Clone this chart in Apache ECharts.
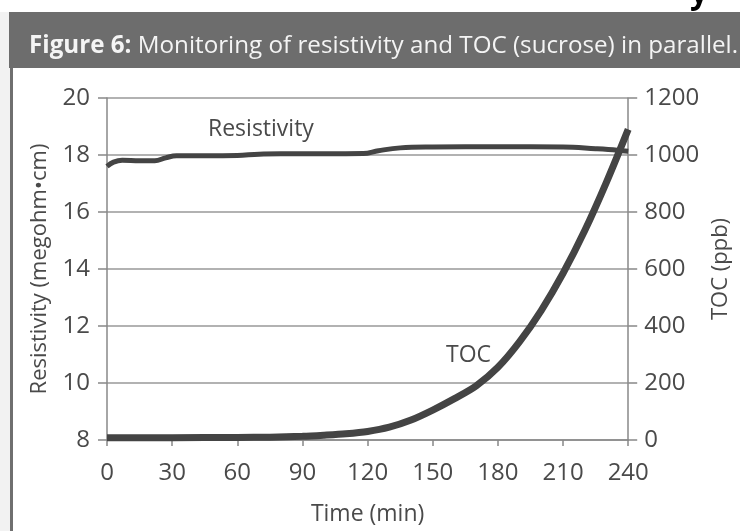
<!DOCTYPE html>
<html>
<head>
<meta charset="utf-8">
<script src="https://cdn.jsdelivr.net/npm/echarts@6/dist/echarts.min.js"></script>
<style>html,body{margin:0;padding:0;background:#fff;}#c{width:740px;height:531px;}</style>
</head>
<body>
<div id="c"></div>
<script>
// Data
var resTime = [0, 3, 7, 15, 22, 27, 32, 45, 60, 70, 80, 100, 118, 125, 135, 150, 180, 210, 225, 235, 240];
var resValues = [17.6, 17.75, 17.82, 17.8, 17.8, 17.9, 17.97, 17.97, 17.98, 18.03, 18.04, 18.04, 18.05, 18.15, 18.25, 18.28, 18.29, 18.28, 18.22, 18.17, 18.13];
var tocTime = [0, 30, 60, 75, 90, 100, 110, 120, 130, 140, 150, 160, 170, 180, 190, 200, 210, 220, 230, 240];
var tocValues = [8, 8, 9, 10, 13, 17, 22, 30, 45, 70, 105, 145, 190, 255, 345, 455, 585, 735, 905, 1090];
var xTicks = [0, 30, 60, 90, 120, 150, 180, 210, 240];
var leftTicks = [8, 10, 12, 14, 16, 18, 20];
var rightTicks = [0, 200, 400, 600, 800, 1000, 1200];
var titleBold = 'Figure 6:';
var titleRest = ' Monitoring of resistivity and TOC (sucrose) in parallel.';
var xName = 'Time (min)';
var leftName = 'Resistivity (megohm\u2022cm)';
var rightName = 'TOC (ppb)';

function pairs(xs, ys) { return xs.map(function (x, i) { return [x, ys[i]]; }); }

var FONT = '"Open Sans", sans-serif';
var TXT = '#4a4a4a';
var chart = echarts.init(document.getElementById('c'), null, {renderer: 'canvas'});
chart.setOption({
  animation: false,
  backgroundColor: '#fff',
  grid: {left: 107, right: 96, top: 98, bottom: 86},
  xAxis: {
    type: 'value', min: 0, max: 240, interval: 30,
    name: xName, nameLocation: 'middle', nameGap: 63,
    nameTextStyle: {fontFamily: FONT, fontSize: 23, color: TXT},
    axisLine: {lineStyle: {color: '#888', width: 1.5}},
    axisTick: {length: 6, lineStyle: {color: '#888', width: 1.5}},
    axisLabel: {fontFamily: FONT, fontSize: 24, color: TXT, margin: 21,
      formatter: function (v) { return xTicks.indexOf(v) >= 0 ? String(v) : ''; }},
    splitLine: {show: false}
  },
  yAxis: [{
    type: 'value', min: 8, max: 20, interval: 2,
    name: leftName, nameLocation: 'middle', nameGap: 56, nameRotate: 90,
    nameTextStyle: {fontFamily: FONT, fontSize: 22, color: TXT},
    axisLine: {show: true, lineStyle: {color: '#888', width: 1.5}},
    axisTick: {show: true, length: 9, lineStyle: {color: '#888', width: 1.5}},
    axisLabel: {fontFamily: FONT, fontSize: 24, color: TXT, margin: 17,
      formatter: function (v) { return leftTicks.indexOf(v) >= 0 ? String(v) : ''; }},
    splitLine: {show: true, lineStyle: {color: '#999', width: 1.5}}
  }, {
    type: 'value', min: 0, max: 1200, interval: 200, position: 'right',
    name: rightName, nameLocation: 'middle', nameGap: 79, nameRotate: 90,
    nameTextStyle: {fontFamily: FONT, fontSize: 22, color: TXT},
    axisLine: {show: true, lineStyle: {color: '#888', width: 1.5}},
    axisTick: {show: true, length: 9, lineStyle: {color: '#888', width: 1.5}},
    axisLabel: {fontFamily: FONT, fontSize: 24, color: TXT, margin: 16,
      formatter: function (v) { return rightTicks.indexOf(v) >= 0 ? String(v) : ''; }},
    splitLine: {show: false}
  }],
  series: [{
    type: 'line', name: 'Resistivity', yAxisIndex: 0, smooth: 0.4, symbol: 'none',
    lineStyle: {color: '#444', width: 5}, z: 3,
    data: pairs(resTime, resValues)
  }, {
    type: 'line', name: 'TOC', yAxisIndex: 1, smooth: 0.3, symbol: 'none',
    lineStyle: {color: '#444', width: 7}, z: 4,
    data: pairs(tocTime, tocValues)
  }],
  graphic: [
    {type: 'rect', shape: {x: 0, y: 12, width: 10, height: 519}, style: {fill: '#f2f2f2'}, silent: true, z: 100},
    {type: 'rect', shape: {x: 10, y: 68, width: 3, height: 463}, style: {fill: '#6f6f6f'}, silent: true, z: 100},
    {type: 'rect', shape: {x: 9, y: 12, width: 731, height: 56}, style: {fill: '#6d6d6d'}, silent: true, z: 100},
    {type: 'text', left: 29, top: 34, z: 101, silent: true,
      style: {text: '{b|' + titleBold + '}{r|' + titleRest + '}',
        rich: {b: {fontFamily: FONT, fontSize: 24.2, fontWeight: 'bold', fill: '#f4f4f4'},
               r: {fontFamily: FONT, fontSize: 24.2, fill: '#f4f4f4'}}}},
    {type: 'text', left: 690, top: -22, z: 101, silent: true,
      style: {text: 'y', fontFamily: FONT, fontSize: 32, fontWeight: 'bold', fill: '#000'}},
    {type: 'text', left: 208, top: 118, z: 101, silent: true,
      style: {text: 'Resistivity', fontFamily: FONT, fontSize: 23, fill: TXT}},
    {type: 'text', left: 446, top: 344, z: 101, silent: true,
      style: {text: 'TOC', fontFamily: FONT, fontSize: 23, fill: TXT}}
  ]
});
</script>
</body>
</html>
